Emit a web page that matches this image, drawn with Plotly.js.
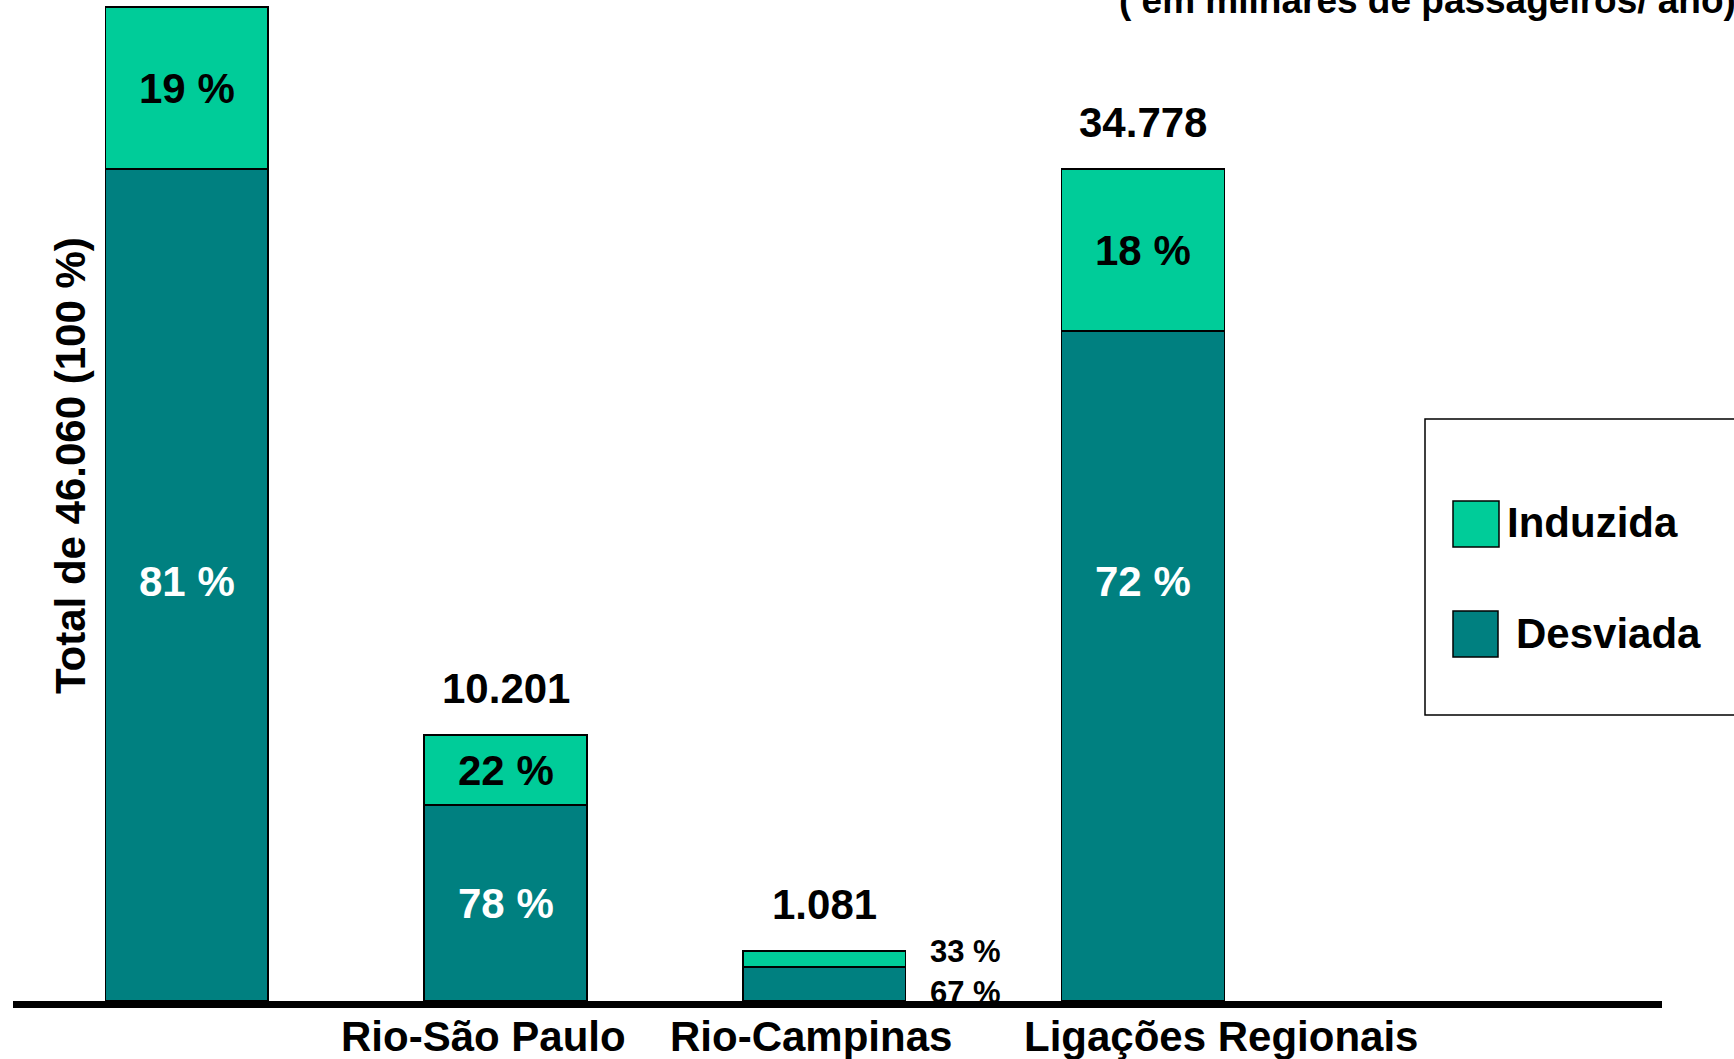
<!DOCTYPE html>
<html>
<head>
<meta charset="utf-8">
<script src="https://cdn.plot.ly/plotly-3.0.1.min.js"></script>
<style>
  html, body { margin: 0; padding: 0; background: #ffffff; }
  #chart { width: 1734px; height: 1059px; }
</style>
</head>
<body>
<div id="chart"></div>
<script>
// ---------------- DATA ----------------
const categories = ['Total', 'Rio-São Paulo', 'Rio-Campinas', 'Ligações Regionais'];
const tickLabels = ['', 'Rio-São Paulo', 'Rio-Campinas', 'Ligações Regionais'];
const seriesNames = ['Desviada', 'Induzida'];
// bar segment heights as drawn in the picture (drawing units)
const desviada = [832, 196, 34, 670];
const induzida = [162, 70, 16, 162];
const pctDesviada = ['81 %', '78 %', '67 %', '72 %'];
const pctInduzida = ['19 %', '22 %', '33 %', '18 %'];
const totalLabels = ['', '10.201', '1.081', '34.778'];
const yTitle = 'Total de 46.060 (100 %)';
const unitNote = '( em milhares de passageiros/ ano)';

// ---------------- STYLE / LAYOUT ----------------
const W = 1734, H = 1059;
const ML = 13, MR = 72, MT = 0, MB = 58;
const PW = W - ML - MR, PH = H - MT - MB;
const px = x => (x - ML) / PW;          // pixel -> paper x
const py = y => (MT + PH - y) / PH;     // pixel -> paper y
const colDes = 'rgb(0,128,128)';
const colInd = 'rgb(0,204,153)';
const FONT = 'Liberation Sans, Arial, Helvetica, sans-serif';
const big = 42, small = 31, note = 37;
const labelCap = 420;        // tall bars: desviada label sits at this level
const totalGap = 47;         // gap between bar top and total label
const smallIdx = 2;          // bar whose % labels sit outside
const tickShift = [0, -22, -13, 78];

const traces = [
  {
    type: 'bar', name: seriesNames[0], x: categories, y: desviada,
    marker: { color: colDes, line: { color: '#000', width: 1.5 } },
    width: 0.511, hoverinfo: 'skip', showlegend: false
  },
  {
    type: 'bar', name: seriesNames[1], x: categories, y: induzida,
    marker: { color: colInd, line: { color: '#000', width: 1.5 } },
    width: 0.511, hoverinfo: 'skip', showlegend: false
  }
];

const ann = [];
categories.forEach((c, i) => {
  const total = desviada[i] + induzida[i];
  if (i === smallIdx) {
    ann.push({ x: c, y: total, xref: 'x', yref: 'y', text: '<b>' + pctInduzida[i] + '</b>',
      showarrow: false, xshift: 141, yanchor: 'middle',
      font: { family: FONT, size: small, color: '#000' } });
    ann.push({ x: c, y: 0, xref: 'x', yref: 'y', text: '<b>' + pctDesviada[i] + '</b>',
      showarrow: false, xshift: 141, yanchor: 'middle', yshift: 9,
      font: { family: FONT, size: small, color: '#000' } });
  } else {
    ann.push({ x: c, y: desviada[i] + induzida[i] / 2, xref: 'x', yref: 'y',
      text: '<b>' + pctInduzida[i] + '</b>', showarrow: false, yanchor: 'middle',
      font: { family: FONT, size: big, color: '#000' } });
    ann.push({ x: c, y: desviada[i] > labelCap ? labelCap : desviada[i] / 2, xref: 'x', yref: 'y',
      text: '<b>' + pctDesviada[i] + '</b>', showarrow: false, yanchor: 'middle',
      font: { family: FONT, size: big, color: '#fff' } });
  }
  if (totalLabels[i]) {
    ann.push({ x: c, y: total + totalGap, xref: 'x', yref: 'y',
      text: '<b>' + totalLabels[i] + '</b>', showarrow: false, yanchor: 'middle',
      font: { family: FONT, size: big, color: '#000' } });
  }
  if (tickLabels[i]) {
    ann.push({ x: c, y: py(1036), xref: 'x', yref: 'paper',
      text: '<b>' + tickLabels[i] + '</b>', showarrow: false, yanchor: 'middle',
      xshift: tickShift[i],
      font: { family: FONT, size: big, color: '#000' } });
  }
});

// y title (drawn inside the frame, rotated)
ann.push({ x: px(70), y: py(466), xref: 'paper', yref: 'paper', text: '<b>' + yTitle + '</b>',
  textangle: -90, showarrow: false, xanchor: 'center', yanchor: 'middle',
  font: { family: FONT, size: big, color: '#000' } });
// unit note at the top right (partly cut by the frame)
ann.push({ x: px(1738), y: py(0), xref: 'paper', yref: 'paper', text: '<b>' + unitNote + '</b>',
  showarrow: false, xanchor: 'right', yanchor: 'middle',
  font: { family: FONT, size: note, color: '#000' } });
// legend texts
ann.push({ x: px(1505), y: py(522), xref: 'paper', yref: 'paper', text: '<b>' + seriesNames[1] + '</b>',
  showarrow: false, xanchor: 'left', yanchor: 'middle',
  font: { family: FONT, size: big, color: '#000' } });
ann.push({ x: px(1514), y: py(633), xref: 'paper', yref: 'paper', text: '<b>' + seriesNames[0] + '</b>',
  showarrow: false, xanchor: 'left', yanchor: 'middle',
  font: { family: FONT, size: big, color: '#000' } });

const shapes = [
  { type: 'rect', xref: 'paper', yref: 'paper', x0: px(1425), x1: px(1760), y0: py(715), y1: py(419),
    line: { color: '#000', width: 1.5 }, fillcolor: 'rgba(0,0,0,0)' },
  { type: 'rect', xref: 'paper', yref: 'paper', x0: px(1453), x1: px(1499), y0: py(547), y1: py(501),
    line: { color: '#000', width: 1.5 }, fillcolor: colInd },
  { type: 'rect', xref: 'paper', yref: 'paper', x0: px(1453), x1: px(1498), y0: py(657), y1: py(611),
    line: { color: '#000', width: 1.5 }, fillcolor: colDes }
];

const layout = {
  width: W, height: H,
  margin: { l: ML, r: MR, t: MT, b: MB, pad: 0 },
  paper_bgcolor: '#fff', plot_bgcolor: '#fff',
  barmode: 'stack',
  showlegend: false,
  xaxis: {
    type: 'category', range: [-0.545, 4.628],
    showline: true, linecolor: '#000', linewidth: 7,
    showticklabels: false, ticks: '', showgrid: false, zeroline: false, fixedrange: true
  },
  yaxis: {
    range: [0, PH], showline: false, showticklabels: false, ticks: '',
    showgrid: false, zeroline: false, fixedrange: true
  },
  annotations: ann,
  shapes: shapes
};

Plotly.newPlot('chart', traces, layout, { displayModeBar: false, staticPlot: true });
</script>
</body>
</html>
